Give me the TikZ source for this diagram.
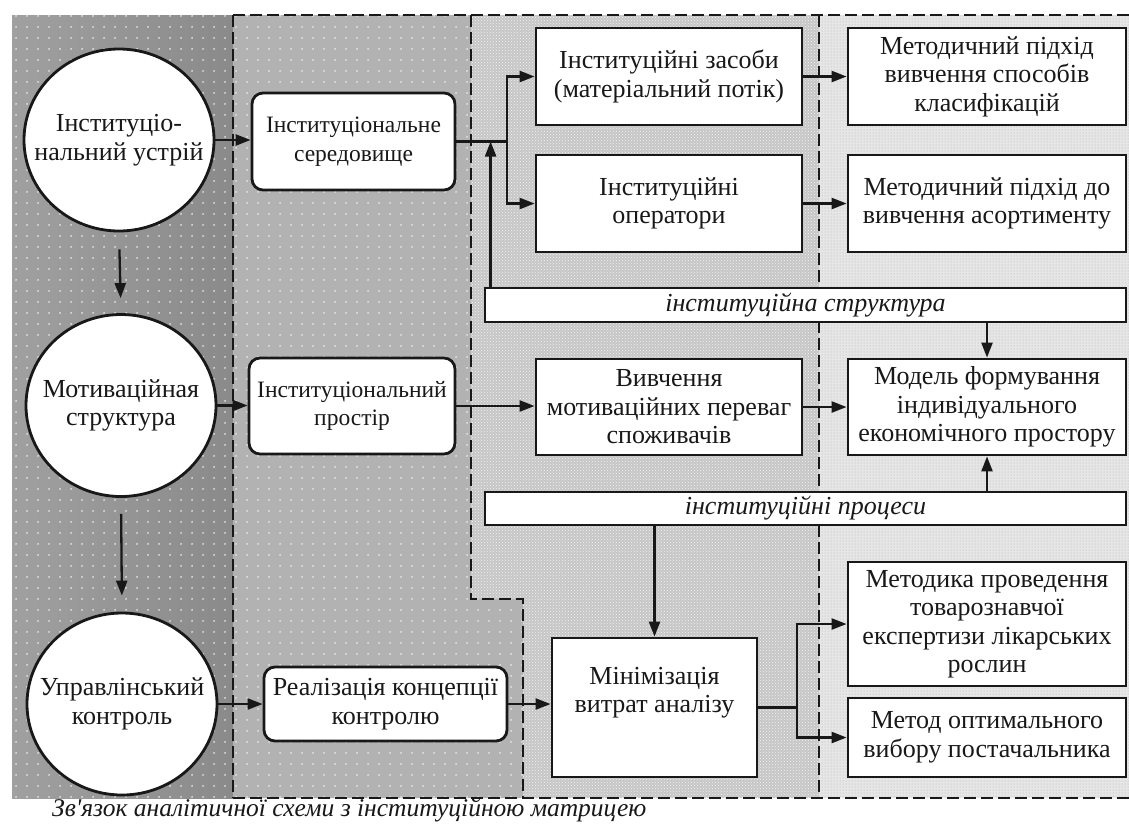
\documentclass[tikz,border=0pt]{standalone}
\usepackage{fontspec}
\setmainfont{Liberation Serif}
\usetikzlibrary{arrows.meta,patterns,patterns.meta,shapes.geometric}
\definecolor{lc}{HTML}{181818}
\definecolor{colAl}{HTML}{A0A0A0}
\definecolor{colAr}{HTML}{8A8A8A}
\definecolor{colB}{HTML}{B2B2B2}
\definecolor{colC}{HTML}{C6C6C6}
\definecolor{colD}{HTML}{E6E6E6}
\tikzdeclarepattern{
  name=wdots,
  type=uncolored,
  bounding box={(0pt,0pt) and (11pt,11pt)},
  tile size={(11pt,11pt)},
  code={\pgfpathcircle{\pgfqpoint{5.5pt}{5.5pt}}{1pt}\pgfusepath{fill}}
}
\tikzset{
  txt/.style={font=\fontsize{26}{28.5}\selectfont, text=lc, align=center},
  box/.style={txt, draw=lc, line width=2.8pt, fill=white, inner sep=0pt},
  rbox/.style={box, rounded corners=11pt},
  circ/.style={ellipse, draw=lc, line width=2.8pt, fill=white, minimum width=190pt, minimum height=182pt, inner sep=0pt},
  bar/.style={box, font=\itshape\fontsize{26}{28.5}\selectfont},
  ln/.style={line width=2.3pt, draw=lc},
  arr/.style={ln, -{Triangle[length=15pt,width=11pt]}},
  bnd/.style={line width=2.5pt, draw=lc, dash pattern=on 12pt off 5pt}
}
\begin{document}
\begin{tikzpicture}[x=1pt,y=-1pt]
\useasboundingbox (0,0) rectangle (1129,823);
% background columns
\shade[left color=colAl, right color=colAr] (12,15) rectangle (233,798);
\fill[pattern=wdots, pattern color=white!85!gray] (12,15) rectangle (233,798);
\fill[colB] (233,15) -- (471,15) -- (471,599) -- (523,599) -- (523,798) -- (233,798) -- cycle;
\fill[pattern=wdots, pattern color=white!85!gray] (233,15) -- (471,15) -- (471,599) -- (523,599) -- (523,798) -- (233,798) -- cycle;
\fill[colC] (471,15) -- (819,15) -- (819,798) -- (523,798) -- (523,599) -- (471,599) -- cycle;
\fill[pattern=crosshatch dots, pattern color=white!90!gray] (471,15) -- (819,15) -- (819,798) -- (523,798) -- (523,599) -- (471,599) -- cycle;
\fill[colD] (819,15) rectangle (1129,798);
\fill[pattern=dots, pattern color=gray!60] (819,15) rectangle (1129,798);
% dashed boundaries
\draw[bnd] (233,15) -- (1129,15);
\draw[bnd] (233,798) -- (1129,798);
\draw[bnd] (233,15) -- (233,798);
\draw[bnd] (471,15) -- (471,599) -- (523,599) -- (523,798);
\draw[bnd] (819,15) -- (819,798);
% circles
\node[circ] (c1) at (119,140) {};
\node[txt] (c1t) at (c1.center) {Інституціо-\\нальний устрій};
\node[circ] (c2) at (121,405.5) {};
\node[txt] (c2t) at (c2.center) {Мотиваційная\\структура};
\node[circ] (c3) at (122,704) {};
\node[txt] (c3t) at (c3.center) {Управлінський\\контроль};
% boxes
\node[rbox, font=\fontsize{23.5}{28.5}\selectfont, minimum width=203pt, minimum height=97pt] (b1) at (353.5,141.5) {Інституціональне\\середовище};
\node[rbox, font=\fontsize{23.5}{28.5}\selectfont, minimum width=206pt, minimum height=96pt] (b2) at (352,406) {Інституціональний\\простір};
\node[rbox, minimum width=243pt, minimum height=74pt] (b3) at (385.5,704) {Реалізація концепції\\контролю};
\node[box, minimum width=266pt, minimum height=97pt] (zas) at (669,76.5) {Інституційні засоби\\(матеріальний потік)};
\node[box, minimum width=266pt, minimum height=97pt] (oper) at (669,203.5) {Інституційні\\оператори};
\node[box, minimum width=278pt, minimum height=97pt] (m1) at (987,76.5) {Методичний підхід\\вивчення способів\\класифікацій};
\node[box, minimum width=278pt, minimum height=97pt] (m2) at (987,203.5) {Методичний підхід до\\вивчення асортименту};
\node[bar, minimum width=641pt, minimum height=34pt] (bar1) at (805.5,305) {інституційна структура};
\node[box, minimum width=266pt, minimum height=96pt] (viv) at (669,407) {Вивчення\\мотиваційних переваг\\споживачів};
\node[box, minimum width=278pt, minimum height=96pt] (model) at (987,407) {Модель формування\\індивідуального\\економічного простору};
\node[bar, minimum width=641pt, minimum height=33pt] (bar2) at (805.5,508.5) {інституційні процеси};
\node[box, minimum width=205pt, minimum height=139pt] (mini) at (654.5,707.5) {};
\node[txt] (minitxt) at ([yshift=15pt]mini.center) {Мінімізація\\витрат аналізу};
\node[box, minimum width=278pt, minimum height=124pt] (metk) at (987,624) {Методика проведення\\товарознавчої\\експертизи лікарських\\рослин};
\node[box, minimum width=278pt, minimum height=79pt] (metd) at (987,737.5) {Метод оптимального\\вибору постачальника};
% caption
\node[font=\itshape\fontsize{25.5}{28}\selectfont, text=lc, anchor=base west, inner sep=0pt] (cap) at (52,816.5) {Зв\textquotesingle язок аналітичної схеми з інституційною матрицею};
% connectors
\draw[arr, shorten <=17pt, shorten >=15pt] (c1.south) -- (c2.north);
\draw[arr, shorten <=16pt, shorten >=16pt] (c2.south) -- (c3.north);
\draw[arr] (c1.east) -- (c1.east -| b1.west);
\draw[arr] (c2.east) -- (c2.east -| b2.west);
\draw[arr] (c3.east) -- (c3.east -| b3.west);
\coordinate (j1) at (507,141.5);
\draw[ln] (b1.east) -- (j1);
\draw[arr] (j1) |- (zas.west);
\draw[arr] (j1) |- (oper.west);
\draw[arr] ([xshift=7pt]bar1.north west) -- ([xshift=7pt]bar1.north west |- b1.east);
\draw[arr] (zas.east) -- (m1.west);
\draw[arr] (oper.east) -- (m2.west);
\draw[arr] (model.north |- bar1.south) -- (model.north);
\draw[arr] (model.south |- bar2.north) -- (model.south);
\draw[arr] (b2.east) -- (b2.east -| viv.west);
\draw[arr] (viv.east) -- (model.west);
\draw[arr] (mini.north |- bar2.south) -- (mini.north);
\draw[arr] (b3.east) -- (b3.east -| mini.west);
\coordinate (j2) at (797,707.5);
\draw[ln] (mini.east) -- (j2);
\draw[arr] (j2) |- (metk.west);
\draw[arr] (j2) |- (metd.west);
\end{tikzpicture}
\end{document}
